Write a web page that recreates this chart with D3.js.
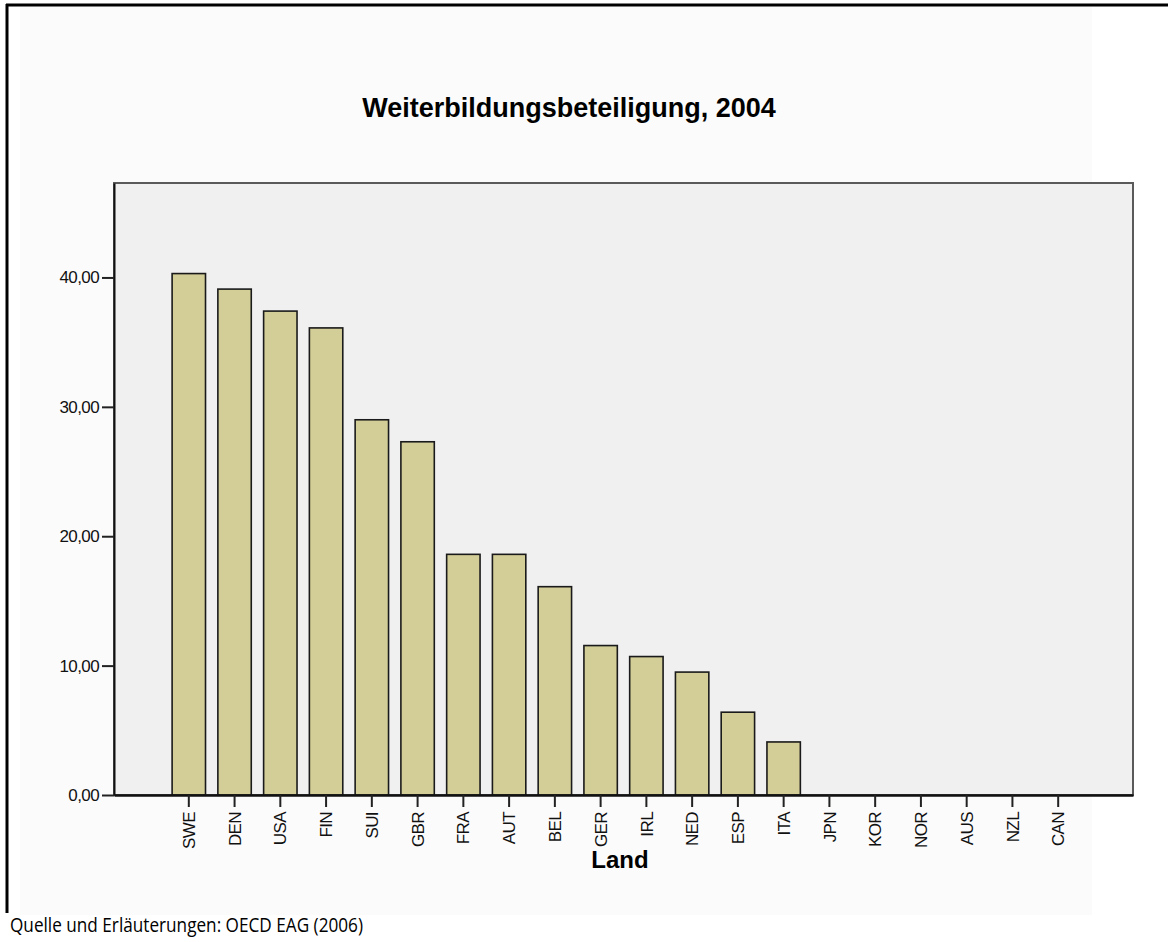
<!DOCTYPE html>
<html>
<head>
<meta charset="utf-8">
<script src="https://cdn.jsdelivr.net/npm/d3@7"></script>
<style>
  html, body { margin: 0; padding: 0; background: #ffffff; }
  svg { display: block; }
</style>
</head>
<body>
<script>
const categories = ["SWE","DEN","USA","FIN","SUI","GBR","FRA","AUT","BEL","GER","IRL","NED","ESP","ITA","JPN","KOR","NOR","AUS","NZL","CAN"];
const values = [40.3, 39.1, 37.4, 36.1, 29.0, 27.3, 18.6, 18.6, 16.1, 11.55, 10.7, 9.5, 6.4, 4.1, 0, 0, 0, 0, 0, 0];
const yTicks = [0, 10, 20, 30, 40];
const yTickLabels = ["0,00", "10,00", "20,00", "30,00", "40,00"];
const titleText = "Weiterbildungsbeteiligung, 2004";
const xAxisTitle = "Land";
const footerText = "Quelle und Erläuterungen: OECD EAG (2006)";

const W = 1168, H = 942;
const plot = { left: 114, right: 1133, top: 183, bottom: 795 };

const svg = d3.select("body").append("svg").attr("width", W).attr("height", H);

// outer white page + light chart panel
svg.append("rect").attr("x", 0).attr("y", 0).attr("width", W).attr("height", H).attr("fill", "#ffffff");
svg.append("rect").attr("x", 20).attr("y", 7).attr("width", 1072).attr("height", 908).attr("fill", "#fbfbfb");
// frame lines (top and left)
svg.append("line").attr("x1", 6).attr("x2", W).attr("y1", 5).attr("y2", 5).attr("stroke", "#000").attr("stroke-width", 3);
svg.append("line").attr("x1", 7).attr("x2", 7).attr("y1", 4).attr("y2", 913).attr("stroke", "#000").attr("stroke-width", 3);

// plot background
svg.append("rect")
  .attr("x", plot.left).attr("y", plot.top)
  .attr("width", plot.right - plot.left).attr("height", plot.bottom - plot.top)
  .attr("fill", "#f0f0f0").attr("stroke", "#5a5a5a").attr("stroke-width", 2);

const x = d3.scaleBand().domain(categories).range([plot.left, plot.right])
  .paddingInner(0.27).paddingOuter(1.27);
const y = d3.scaleLinear().domain([0, 47.3]).range([plot.bottom, plot.top]);

const data = categories.map((c, i) => ({ c, v: values[i] }));

svg.append("g").selectAll("rect").data(data.filter(d => d.v > 0)).join("rect")
  .attr("x", d => x(d.c))
  .attr("y", d => y(d.v))
  .attr("width", x.bandwidth())
  .attr("height", d => y(0) - y(d.v))
  .attr("fill", "#d3ce98")
  .attr("stroke", "#1a1a1a")
  .attr("stroke-width", 1.6);

// Y axis
const yAxis = svg.append("g").attr("transform", `translate(${plot.left},0)`)
  .call(d3.axisLeft(y).tickValues(yTicks).tickFormat((d, i) => yTickLabels[i]).tickSize(12).tickSizeOuter(0).tickPadding(3));
yAxis.select(".domain").attr("stroke", "#111").attr("stroke-width", 2);
yAxis.selectAll(".tick line").attr("stroke", "#222").attr("stroke-width", 2);
yAxis.selectAll(".tick text").attr("font-family", "Liberation Sans, Arial, sans-serif").attr("font-size", 17)
  .attr("letter-spacing", -0.6).attr("fill", "#111");

// X axis
const xAxis = svg.append("g").attr("transform", `translate(0,${plot.bottom})`)
  .call(d3.axisBottom(x).tickSize(12).tickSizeOuter(0));
xAxis.select(".domain").attr("stroke", "#111").attr("stroke-width", 2.5);
xAxis.selectAll(".tick line").attr("stroke", "#222").attr("stroke-width", 2);
xAxis.selectAll(".tick text")
  .attr("font-family", "Liberation Sans, Arial, sans-serif").attr("font-size", 17).attr("fill", "#111")
  .attr("letter-spacing", -0.6)
  .attr("transform", "rotate(-90)")
  .attr("text-anchor", "end")
  .attr("x", -17).attr("y", 0).attr("dy", "0.36em");

// Title
svg.append("text").attr("x", 569).attr("y", 117).attr("text-anchor", "middle")
  .attr("font-family", "Liberation Sans, Arial, sans-serif").attr("font-weight", "bold")
  .attr("font-size", 27).attr("fill", "#000").text(titleText);

// X axis title
svg.append("text").attr("x", 620).attr("y", 868).attr("text-anchor", "middle")
  .attr("font-family", "Liberation Sans, Arial, sans-serif").attr("font-weight", "bold")
  .attr("font-size", 24).attr("fill", "#000").text(xAxisTitle);

// Footer
svg.append("text").attr("x", 10).attr("y", 932)
  .attr("font-family", "Open Sans, Noto Sans, sans-serif")
  .attr("font-size", 20).attr("fill", "#000")
  .attr("textLength", 353).attr("lengthAdjust", "spacingAndGlyphs")
  .text(footerText);
</script>
</body>
</html>
